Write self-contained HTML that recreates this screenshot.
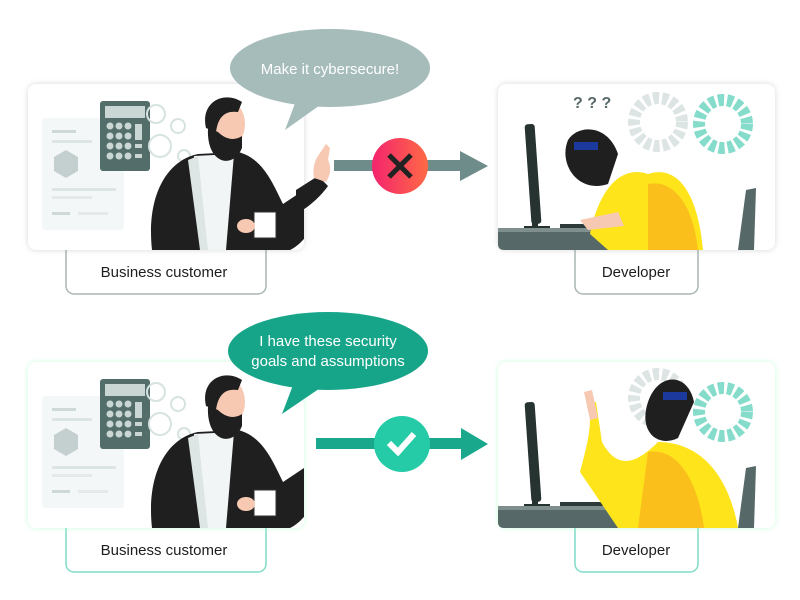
<!DOCTYPE html>
<html><head><style>body{margin:0;background:#fff}svg{display:block}text{font-family:"Liberation Sans",sans-serif}</style></head><body>
<svg width="800" height="600" viewBox="0 0 800 600" xmlns="http://www.w3.org/2000/svg">
<defs>
<linearGradient id="rg" x1="0" x2="1"><stop offset="0" stop-color="#f3246e"/><stop offset="1" stop-color="#ff6a45"/></linearGradient>
<filter id="sh" x="-10%" y="-10%" width="120%" height="120%"><feDropShadow dx="0" dy="0" stdDeviation="3" flood-color="#9fb" flood-opacity="0.5"/></filter>
<filter id="sg" x="-10%" y="-10%" width="120%" height="120%"><feDropShadow dx="0" dy="0" stdDeviation="3" flood-color="#999" flood-opacity="0.4"/></filter>
<g id="biz">
 <rect x="14" y="34" width="82" height="112" rx="3" fill="#f4f7f7"/>
 <rect x="24" y="46" width="24" height="3" fill="#cfd8d8"/><rect x="24" y="56" width="40" height="3" fill="#dde4e4"/>
 <polygon points="38,66 50,73 50,87 38,94 26,87 26,73" fill="#c4cfcf"/>
 <rect x="24" y="104" width="64" height="3" fill="#dde4e4"/><rect x="24" y="112" width="40" height="3" fill="#e4eaea"/><rect x="24" y="128" width="18" height="3" fill="#cfd8d8"/><rect x="50" y="128" width="30" height="3" fill="#e4eaea"/>
 <rect x="72" y="17" width="50" height="70" rx="3" fill="#526d6a"/><rect x="77" y="22" width="40" height="12" fill="#c9d6d4"/>
 <g fill="#c9d6d4"><circle cx="82" cy="42" r="3.5"/><circle cx="91" cy="42" r="3.5"/><circle cx="100" cy="42" r="3.5"/><circle cx="82" cy="52" r="3.5"/><circle cx="91" cy="52" r="3.5"/><circle cx="100" cy="52" r="3.5"/><circle cx="82" cy="62" r="3.5"/><circle cx="91" cy="62" r="3.5"/><circle cx="100" cy="62" r="3.5"/><circle cx="82" cy="72" r="3.5"/><circle cx="91" cy="72" r="3.5"/><circle cx="100" cy="72" r="3.5"/><rect x="107" y="40" width="7" height="16"/><rect x="107" y="60" width="7" height="4"/><rect x="107" y="70" width="7" height="4"/></g>
 <g fill="none" stroke="#d6e3e1" stroke-width="2"><circle cx="128" cy="30" r="9"/><circle cx="150" cy="42" r="7"/><circle cx="132" cy="62" r="11"/><circle cx="156" cy="72" r="6"/></g>
 <path d="M124 166 C118 110 140 76 170 70 L210 68 C235 74 245 100 255 120 L288 98 L302 108 C290 140 275 160 262 166 Z" fill="#1f1f1f"/>
 <path d="M166 72 L178 166 L198 166 L206 70 Z" fill="#f2f5f5"/><path d="M160 76 L172 166 L180 166 L170 72 Z" fill="#dde5e5"/>
 <ellipse cx="199" cy="40" rx="18" ry="24" fill="#f7c9b3"/>
 <path d="M180 44 C178 80 205 86 214 64 L214 52 C205 58 196 54 190 48 Z" fill="#1f1f1f"/>
 <path d="M178 44 C172 18 196 6 214 18 L210 28 C196 26 190 34 188 48 Z" fill="#1f1f1f"/>
 <rect x="226" y="128" width="22" height="26" fill="#fff" stroke="#333"/><ellipse cx="218" cy="142" rx="9" ry="7" fill="#f7c9b3"/>
</g>
<g id="dev">
 <rect x="30" y="40" width="10" height="100" rx="3" fill="#263331" transform="rotate(-4 35 90)"/>
 <rect x="34" y="90" width="6" height="56" fill="#263331"/><rect x="26" y="142" width="26" height="4" fill="#263331"/>
 <path d="M0 146 L150 146 L150 166 L6 166 Q0 166 0 160 Z" fill="#566968"/><rect x="0" y="144" width="150" height="4" fill="#7e8f8e"/>
 <rect x="62" y="140" width="46" height="4" fill="#2d3a39"/>
 <path d="M240 166 L248 106 L258 104 L256 166 Z" fill="#566968"/>
</g>
</defs>

<rect x="66" y="230" width="200" height="64" rx="8" fill="#fff" stroke="#a8b6b4" stroke-width="1.5"/>
<text x="164" y="277" font-size="15" text-anchor="middle" fill="#1d1d1d">Business customer</text>
<rect x="28" y="84" width="276" height="166" rx="8" fill="#fff" filter="url(#sg)"/>
<svg x="28" y="84" width="276" height="166" overflow="hidden"><use href="#biz"/></svg>
<path d="M296 190 L318 176 L328 186 C318 200 304 210 296 214 Z" fill="#1f1f1f"/>
<circle cx="317" cy="203" r="2" fill="#fff"/><circle cx="314" cy="208" r="2" fill="#fff"/>
<path d="M314 178 C312 165 316 158 322 150 L326 144 L330 148 L328 160 C332 168 330 176 326 182 Z" fill="#f7c9b3"/>
<ellipse cx="330" cy="68" rx="100" ry="39" fill="#a5bcba"/>
<polygon points="285,130 300,90 330,98" fill="#a5bcba"/>
<text x="330" y="74" font-size="15" text-anchor="middle" fill="#fff">Make it cybersecure!</text>
<rect x="334" y="160" width="126" height="11" fill="#6e8c89"/><polygon points="460,151 488,166 460,181" fill="#6e8c89"/>
<circle cx="400" cy="166" r="28" fill="url(#rg)"/>
<path d="M389 155 L411 177 M411 155 L389 177" stroke="#222" stroke-width="5"/>

<rect x="575" y="230" width="123" height="64" rx="8" fill="#fff" stroke="#a8b6b4" stroke-width="1.5"/>
<text x="636" y="277" font-size="15" text-anchor="middle" fill="#1d1d1d">Developer</text>
<rect x="498" y="84" width="277" height="166" rx="8" fill="#fff" filter="url(#sg)"/>
<svg x="498" y="84" width="277" height="166" overflow="hidden">
 <use href="#dev"/>
 <circle cx="160" cy="38" r="24" fill="none" stroke="#dde4e4" stroke-width="12" stroke-dasharray="6 3"/>
 <circle cx="225" cy="40" r="24" fill="none" stroke="#86dccb" stroke-width="12" stroke-dasharray="6 3"/>
 <text x="75" y="24" font-size="16" font-weight="bold" fill="#566968">? ? ?</text>
 <path d="M92 150 C100 110 120 80 150 90 C180 80 200 110 205 166 L110 166 Z" fill="#fde41b"/>
 <path d="M150 100 C175 95 195 120 200 166 L150 166 Z" fill="#fbbf1c"/>
 <path d="M70 56 C60 80 80 110 110 100 L120 70 C110 40 80 40 70 56 Z" fill="#1f1f1f"/>
 <rect x="76" y="58" width="24" height="8" fill="#1c3a9e"/>
 <path d="M82 136 L120 128 L126 142 L90 146 Z" fill="#f7c9b3"/>
</svg>

<rect x="66" y="508" width="200" height="64" rx="8" fill="#fff" stroke="#7fdcc8" stroke-width="1.5"/>
<text x="164" y="555" font-size="15" text-anchor="middle" fill="#1d1d1d">Business customer</text>
<rect x="28" y="362" width="276" height="166" rx="8" fill="#fff" filter="url(#sh)"/>
<svg x="28" y="362" width="276" height="166" overflow="hidden"><use href="#biz"/></svg>
<ellipse cx="328" cy="351" rx="100" ry="39" fill="#17a58a"/>
<polygon points="282,414 298,372 332,380" fill="#17a58a"/>
<text x="328" y="346" font-size="15" text-anchor="middle" fill="#fff">I have these security</text>
<text x="328" y="366" font-size="15" text-anchor="middle" fill="#fff">goals and assumptions</text>
<rect x="316" y="438" width="146" height="11" fill="#1aa88c"/><polygon points="461,428 488,444 461,460" fill="#1aa88c"/>
<circle cx="402" cy="444" r="28" fill="#25cba7"/>
<path d="M389 443 L398 452 L414 434" fill="none" stroke="#fff" stroke-width="6"/>

<rect x="575" y="508" width="123" height="64" rx="8" fill="#fff" stroke="#7fdcc8" stroke-width="1.5"/>
<text x="636" y="555" font-size="15" text-anchor="middle" fill="#1d1d1d">Developer</text>
<rect x="498" y="362" width="277" height="166" rx="8" fill="#fff" filter="url(#sh)"/>
<svg x="498" y="362" width="277" height="166" overflow="hidden">
 <use href="#dev"/>
 <circle cx="160" cy="36" r="24" fill="none" stroke="#dde4e4" stroke-width="12" stroke-dasharray="6 3"/>
 <circle cx="225" cy="50" r="24" fill="none" stroke="#86dccb" stroke-width="12" stroke-dasharray="6 3"/>
 <path d="M82 110 C90 80 95 60 90 40 L98 40 L104 80 C120 110 140 100 160 80 C200 80 230 110 240 166 L120 166 Z" fill="#fde41b"/>
 <path d="M150 90 C180 85 200 120 206 166 L140 166 Z" fill="#fbbf1c"/>
 <path d="M150 40 C140 70 160 86 180 76 L196 40 C190 10 160 10 150 40 Z" fill="#1f1f1f"/>
 <rect x="165" y="30" width="24" height="8" fill="#1c3a9e"/>
 <path d="M86 30 L92 58 L100 56 L94 28 Z" fill="#f7c9b3"/>
</svg>
</svg>
</body></html>
